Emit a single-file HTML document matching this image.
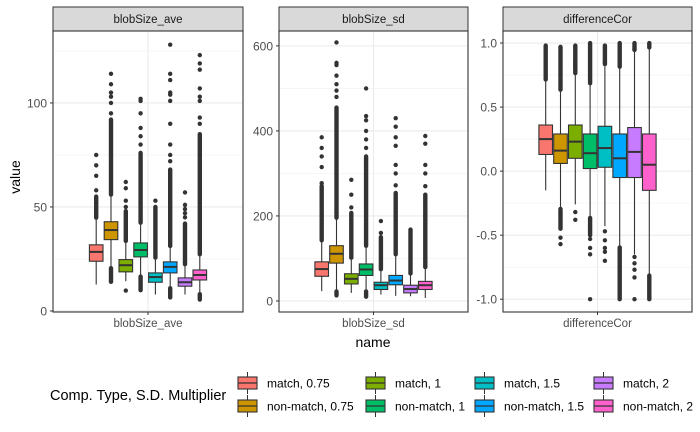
<!DOCTYPE html>
<html><head><meta charset="utf-8"><style>
body{margin:0;background:#fff}
svg{display:block;font-family:"Liberation Sans",Arial,sans-serif}
</style></head><body>
<svg id="chart" width="700" height="432" viewBox="0 0 700 432"></svg>
<script>
// ---- data ----
const seriesNames = ["match, 0.75","non-match, 0.75","match, 1","non-match, 1","match, 1.5","non-match, 1.5","match, 2","non-match, 2"];
const colors = ["#F8766D","#CD9600","#7CAE00","#00BE67","#00BFC4","#00A9FF","#C77CFF","#FF61CC"];
const panelNames = ["blobSize_ave","blobSize_sd","differenceCor"];
// blobSize_ave
const aveQ1 = [23.9,34.3,18.8,26,13.8,18.3,11.9,14.9];
const aveMed = [28.4,38.9,22,29.3,16.3,21.2,13.8,17.3];
const aveQ3 = [31.8,42.9,24.7,32.7,18.3,23.6,15.9,19.7];
const aveLo = [12.7,21.5,14.3,17.5,7.9,11.9,7.9,9];
const aveHi = [43.9,55,32.7,41.5,24.7,30.3,21.5,26.3];
const aveDenseHi = [55,92,48,76,50,68,42,85];
const aveDenseLo = [null,14,null,10,null,6.5,null,5.5];
const aveSparse = [[58,65,70,75],[95,100,103,105,109,114],[50,53,59,62,9.8],[80,84,88,95,101,102],[53],[72,75,80,90,101,104,105,111,114,128],[45,47,49,51,57],[90,93,101,103,107,116,119,123]];
// blobSize_sd
const sdQ1 = [58,89,40,60,27,38,19,27];
const sdMed = [75,111,52,74,37,48,28,37];
const sdQ3 = [92,130,64,87,44,60,37,46];
const sdLo = [23,27,19,27,15,12,11,7];
const sdHi = [138,191,97,125,70,105,60,75];
const sdDenseHi = [270,455,207,340,150,254,168,250];
const sdDenseLo = [null,13,null,10,null,null,null,null];
const sdSparse = [[277,315,340,360,385],[480,495,510,530,555,560,608],[220,250,285],[360,380,400,425,435,500],[160,188],[272,300,320,365,385,410,430],[],[270,300,320,370,388]];
// differenceCor
const corQ1 = [0.13,0.06,0.10,0.02,0.03,-0.05,-0.05,-0.15];
const corMed = [0.25,0.16,0.23,0.14,0.18,0.10,0.15,0.05];
const corQ3 = [0.36,0.29,0.36,0.29,0.35,0.29,0.34,0.29];
const corLo = [-0.15,-0.28,-0.26,-0.35,-0.43,-0.58,-0.65,-0.80];
const corHi = [0.70,0.62,0.75,0.67,0.82,0.80,0.93,0.95];
const corDenseHi = [0.98,0.97,0.98,1.0,0.98,1.0,1.0,1.0];
const corDenseLo = [null,-0.45,null,-0.5,null,-1.0,null,-1.0];
const corSparse = [[],[-0.52,-0.57],[-0.32,-0.38,0.82,0.85],[-0.53,-0.6,-0.65,-1.0],[-0.47,-0.54,-0.6,-0.63,-0.7,0.85],[],[-0.67,-0.72,-0.77,-0.83,-1.0,0.95],[]];
const aveTicks = [0,50,100];
const sdTicks = [0,200,400,600];
const corTicks = [-1.0,-0.5,0.0,0.5,1.0];
const corTickLabels = ["-1.0","-0.5","0.0","0.5","1.0"];

// ---- layout ----
const NS="http://www.w3.org/2000/svg";
const svg=document.getElementById('chart');
function el(tag,attrs,parent){const e=document.createElementNS(NS,tag);for(const k in attrs)e.setAttribute(k,attrs[k]);(parent||svg).appendChild(e);return e;}
const panels=[
 {name:panelNames[0],x0:53,x1:243,dom:[-0.5,134.6],ticks:aveTicks,labels:aveTicks.map(String),minor:[25,75,125],
  q1:aveQ1,med:aveMed,q3:aveQ3,lo:aveLo,hi:aveHi,dh:aveDenseHi,dl:aveDenseLo,sp:aveSparse},
 {name:panelNames[1],x0:279,x1:468,dom:[-26,635],ticks:sdTicks,labels:sdTicks.map(String),minor:[100,300,500],
  q1:sdQ1,med:sdMed,q3:sdQ3,lo:sdLo,hi:sdHi,dh:sdDenseHi,dl:sdDenseLo,sp:sdSparse},
 {name:panelNames[2],x0:503,x1:692,dom:[-1.10,1.094],ticks:corTicks,labels:corTickLabels,minor:[-0.75,-0.25,0.25,0.75],
  q1:corQ1,med:corMed,q3:corQ3,lo:corLo,hi:corHi,dh:corDenseHi,dl:corDenseLo,sp:corSparse}
];
const plotTop=31,plotBottom=312;
panels.forEach((p,pi)=>{
  const g=el('g',{});
  
  
  const y=v=>plotBottom-(v-p.dom[0])/(p.dom[1]-p.dom[0])*(plotBottom-plotTop);
  const cx=(p.x0+p.x1)/2;
  el('rect',{x:p.x0,y:plotTop,width:p.x1-p.x0,height:plotBottom-plotTop,fill:'#fff'},g);
  p.minor.forEach(v=>el('line',{x1:p.x0,x2:p.x1,y1:y(v),y2:y(v),stroke:'#f0f0f0','stroke-width':0.6},g));
  p.ticks.forEach(v=>el('line',{x1:p.x0,x2:p.x1,y1:y(v),y2:y(v),stroke:'#ebebeb','stroke-width':1.1},g));
  el('line',{x1:cx,x2:cx,y1:plotTop,y2:plotBottom,stroke:'#ebebeb','stroke-width':1.1},g);
  const strip=el('rect',{x:p.x0,y:7,width:p.x1-p.x0,height:24,fill:'#d9d9d9',stroke:'#333','stroke-width':1},g);
  
  const st=el('text',{x:cx,y:23,'text-anchor':'middle','font-size':11.5,fill:'#1a1a1a'},g);st.textContent=p.name;
  
  p.ticks.forEach((v,i)=>{
    el('line',{x1:p.x0-3,x2:p.x0,y1:y(v),y2:y(v),stroke:'#333'},g);
    const t=el('text',{x:p.x0-6,y:y(v)+4.5,'text-anchor':'end','font-size':12,fill:'#4d4d4d'},g);t.textContent=p.labels[i];
    
  });
  el('line',{x1:cx,x2:cx,y1:plotBottom,y2:plotBottom+3,stroke:'#333'},g);
  const xt=el('text',{x:cx,y:plotBottom+15,'text-anchor':'middle','font-size':11.5,fill:'#4d4d4d'},g);xt.textContent=p.name;
  
  const stride=14.8,bw=13.6;
  for(let i=0;i<8;i++){
    const bx=cx+(i-3.5)*stride;
    const bg=el('g',{},g);
    
    
    el('line',{x1:bx,x2:bx,y1:y(p.hi[i]),y2:y(p.lo[i]),stroke:'#333','stroke-width':1.1},bg);
    el('line',{x1:bx,x2:bx,y1:y(p.dh[i]),y2:y(p.hi[i])-2,stroke:'#333','stroke-width':4.4,'stroke-linecap':'round'},bg);
    if(p.dl[i]!==null) el('line',{x1:bx,x2:bx,y1:y(p.lo[i])+2,y2:y(p.dl[i]),stroke:'#333','stroke-width':4.4,'stroke-linecap':'round'},bg);
    p.sp[i].forEach(v=>el('circle',{cx:bx,cy:y(v),r:2.2,fill:'#333'},bg));
    el('rect',{x:bx-bw/2,y:y(p.q3[i]),width:bw,height:y(p.q1[i])-y(p.q3[i]),fill:colors[i],stroke:'#333','stroke-width':1.1},bg);
    el('line',{x1:bx-bw/2,x2:bx+bw/2,y1:y(p.med[i]),y2:y(p.med[i]),stroke:'#333','stroke-width':2},bg);
  }
  el('rect',{x:p.x0,y:plotTop,width:p.x1-p.x0,height:plotBottom-plotTop,fill:'none',stroke:'#333','stroke-width':1.1},g);
});
let t=el('text',{x:373,y:347,'text-anchor':'middle','font-size':14,fill:'#000'});t.textContent='name';

t=el('text',{x:0,y:0,'text-anchor':'middle','font-size':14,fill:'#000',transform:'translate(20,177) rotate(-90)'});t.textContent='value';

t=el('text',{x:50,y:400,'font-size':14.5,fill:'#000'});t.textContent='Comp. Type, S.D. Multiplier';

const colX=[238,366,475,594],rowY=[383,406];
for(let i=0;i<8;i++){
  const kx=colX[Math.floor(i/2)],ky=rowY[i%2];
  const lg=el('g',{});
  
  
  el('line',{x1:kx+9.5,x2:kx+9.5,y1:ky-11,y2:ky+11,stroke:'#333'},lg);
  el('rect',{x:kx,y:ky-6,width:19,height:12,fill:colors[i],stroke:'#333','stroke-width':1.1},lg);
  el('line',{x1:kx,x2:kx+19,y1:ky,y2:ky,stroke:'#333','stroke-width':1.2},lg);
  const lt=el('text',{x:kx+29,y:ky+4.5,'font-size':12,fill:'#000'},lg);lt.textContent=seriesNames[i];
}
</script>
</body></html>
